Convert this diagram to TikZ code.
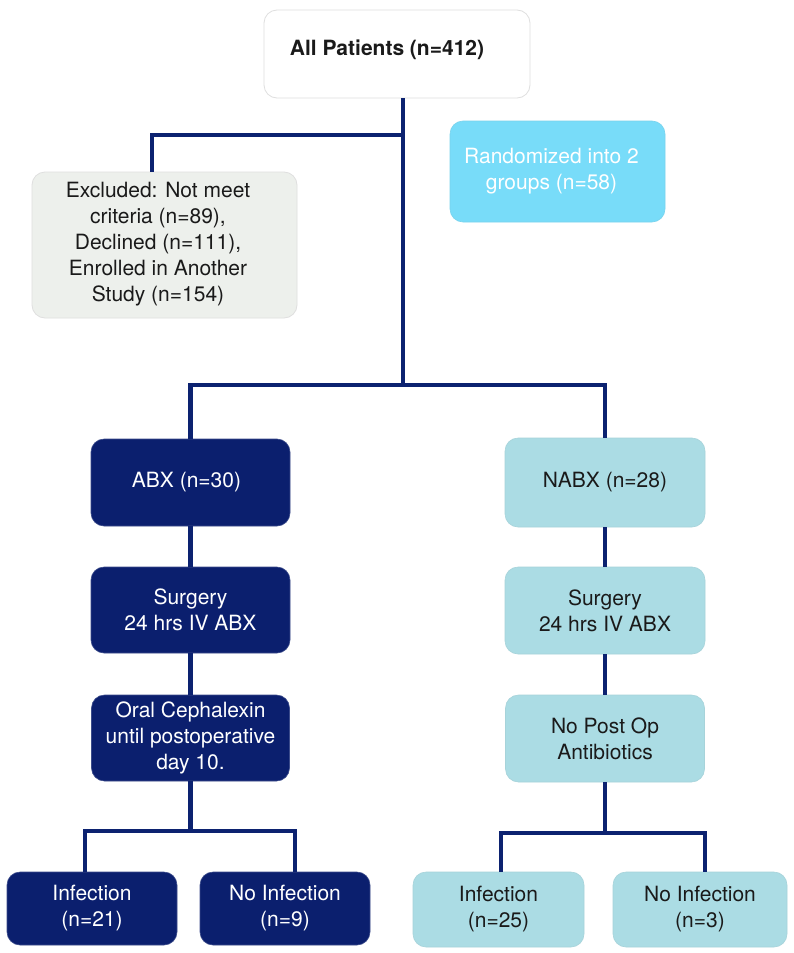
\documentclass[tikz,border=0pt]{standalone}
\usepackage{fontspec}
\setmainfont{TeX Gyre Heros}
\definecolor{navy}{HTML}{0B1F6E}
\definecolor{linec}{HTML}{0C2270}
\definecolor{teal}{HTML}{ABDCE4}
\definecolor{sky}{HTML}{78DCF9}
\definecolor{greyb}{HTML}{EDF0EC}
\definecolor{txt}{HTML}{1A1A1A}
\tikzset{
  box/.style={rectangle, rounded corners=13pt, inner sep=0pt, align=center,
    font=\fontsize{21}{26}\selectfont},
  darkbox/.style={box, fill=navy, text=white, draw=navy!80!white, line width=0.6pt},
  lightbox/.style={box, fill=teal, text=txt, draw=teal!90!gray, line width=0.6pt},
  conn/.style={draw=linec, line width=4.2pt},
}
\begin{document}
\begin{tikzpicture}[x=1pt, y=-1pt]
\useasboundingbox (0,0) rectangle (793,953);
\fill[white] (0,0) rectangle (793,953);

% top box
\node[box, fill=white, draw=gray!25, line width=0.8pt, minimum width=266pt, minimum height=88pt] (all) at (397,54) {};
\node[font=\fontsize{21}{26}\selectfont\bfseries, text=txt, inner sep=0pt] (alltxt) at (387,50) {All Patients (n=412)};

% excluded
\node[box, fill=greyb, draw=gray!25, line width=0.8pt, minimum width=265pt, minimum height=146pt] (excl) at (164.5,245) {};
\node[align=center, font=\fontsize{21}{26}\selectfont, text=txt, inner sep=0pt] (excltxt) at (158,244)
  {Excluded: Not meet\\criteria (n=89),\\Declined (n=111),\\Enrolled in Another\\Study (n=154)};

% randomized
\node[box, fill=sky, text=white, draw=sky!90!gray, line width=0.6pt, minimum width=215pt, minimum height=101pt] (rand) at (557.5,171.5)
  {Randomized into 2\hspace*{12pt}\\groups (n=58)\hspace*{12pt}};

% left arm
\node[darkbox, minimum width=199pt, minimum height=87pt] (abx) at (190.5,482.5) {ABX (n=30)\hspace*{8pt}};
\node[darkbox, minimum width=199pt, minimum height=86pt] (surgL) at (190.5,610) {Surgery\\24 hrs IV ABX};
\node[darkbox, minimum width=198pt, minimum height=86pt] (oral) at (190.5,738) {Oral Cephalexin\\until postoperative\\day 10.};
\node[darkbox, minimum width=170pt, minimum height=73pt] (infL) at (92,908.5) {Infection\\(n=21)};
\node[darkbox, minimum width=170pt, minimum height=73pt] (noinfL) at (285,908.5) {No Infection\\(n=9)};

% right arm
\node[lightbox, minimum width=200pt, minimum height=89pt] (nabx) at (605,482.5) {NABX (n=28)};
\node[lightbox, minimum width=200pt, minimum height=87pt] (surgR) at (605,610.5) {Surgery\\24 hrs IV ABX};
\node[lightbox, minimum width=199pt, minimum height=87pt] (nopost) at (605,738.5) {No Post Op\\Antibiotics};
\node[lightbox, minimum width=171pt, minimum height=75pt] (infR) at (498.5,909.5) {Infection\\(n=25)};
\node[lightbox, minimum width=174pt, minimum height=75pt] (noinfR) at (700,909.5) {No Infection\\(n=3)};

% junction coordinates
\coordinate (j1) at (403,135);
\coordinate (e1) at (152,135);
\coordinate (j2) at (403,385);
\coordinate (bla) at (85,831);
\coordinate (blb) at (295,831);
\coordinate (bra) at (501,833);
\coordinate (brb) at (705,833);

% connectors
\draw[conn] (all.south -| j1) -- (j2);
\draw[conn] (j1) -- (e1) -- (e1 |- excl.north);
\draw[conn] (abx.north) |- (nabx.north |- j2) -- (nabx.north);
\draw[conn] (abx) -- (surgL);
\draw[conn] (surgL) -- (oral);
\draw[conn] (nabx) -- (surgR);
\draw[conn] (surgR) -- (nopost);
\draw[conn] (oral.south) -- (oral.south |- bla);
\draw[conn] (bla |- infL.north) -- (bla) -- (blb) -- (blb |- noinfL.north);
\draw[conn] (nopost.south) -- (nopost.south |- bra);
\draw[conn] (bra |- infR.north) -- (bra) -- (brb) -- (brb |- noinfR.north);
\end{tikzpicture}
\end{document}
